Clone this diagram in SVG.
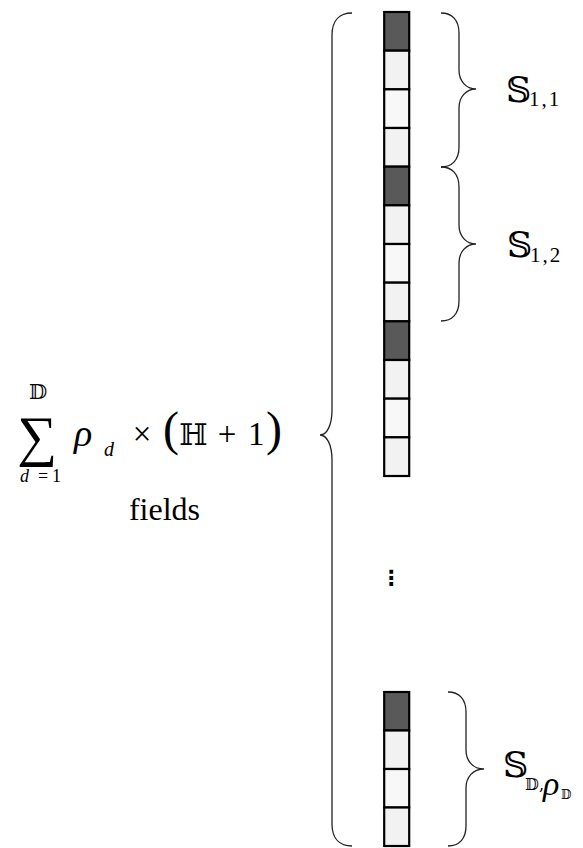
<svg xmlns="http://www.w3.org/2000/svg" width="583" height="848" viewBox="0 0 583 848">
<style>
.cell{stroke:#000;stroke-width:2.2}
.dk{fill:#595959}
.l1{fill:#f2f2f2}
.l2{fill:#f8f8f8}
.brace{fill:none;stroke:#222;stroke-width:1.3}
.t{font-family:"Liberation Serif","DejaVu Serif",serif;fill:#000}
.ds{font-family:"DejaVu Serif","DejaVu Sans",serif;fill:#000}
.dots{font-family:"DejaVu Sans",sans-serif;fill:#000;font-weight:bold}
.it{font-style:italic}
</style>
<rect width="583" height="848" fill="#fff"/>
<g id="column-top">
<rect class="cell dk" x="384.2" y="12" width="25" height="38.67"/>
<rect class="cell l1" x="384.2" y="50.67" width="25" height="38.67"/>
<rect class="cell l2" x="384.2" y="89.33" width="25" height="38.67"/>
<rect class="cell l1" x="384.2" y="128" width="25" height="38.67"/>
<rect class="cell dk" x="384.2" y="166.67" width="25" height="38.67"/>
<rect class="cell l1" x="384.2" y="205.33" width="25" height="38.67"/>
<rect class="cell l2" x="384.2" y="244" width="25" height="38.67"/>
<rect class="cell l1" x="384.2" y="282.67" width="25" height="38.67"/>
<rect class="cell dk" x="384.2" y="321.33" width="25" height="38.67"/>
<rect class="cell l1" x="384.2" y="360" width="25" height="38.67"/>
<rect class="cell l2" x="384.2" y="398.67" width="25" height="38.67"/>
<rect class="cell l1" x="384.2" y="437.33" width="25" height="38.67"/>
</g>
<g id="column-bottom">
<rect class="cell dk" x="384.2" y="692" width="25" height="38.5"/>
<rect class="cell l1" x="384.2" y="730.5" width="25" height="38.5"/>
<rect class="cell l2" x="384.2" y="769" width="25" height="38.5"/>
<rect class="cell l1" x="384.2" y="807.5" width="25" height="38.5"/>
</g>
<g id="ellipsis">
<text class="dots" x="391" y="585" font-size="21" text-anchor="middle">⋮</text>
</g>
<g id="braces">
<path class="brace" d="M352,13 C340,13 332,20 332,35 L332,410 C332,425 327,435 320,435 C327,435 332,445 332,460 L332,824 C332,839 340,846 352,846"/>
<path class="brace" d="M441,13 C452,13 459,20 459,33 L459,70 C459,81 466,89 476,89 C466,89 459,97 459,108 L459,147 C459,160 452,167 441,167"/>
<path class="brace" d="M441,167 C452,167 459,174 459,187 L459,225 C459,236 466,244 476,244 C466,244 459,252 459,263 L459,301 C459,314 452,321 441,321"/>
<path class="brace" d="M448,692 C459,692 466,699 466,712 L466,750 C466,761 473,769 484,769 C473,769 466,777 466,788 L466,826 C466,839 459,846 448,846"/>
</g>
<g id="label-s11">
<text class="ds" x="506" y="102" font-size="35">𝕊</text>
<text class="t" x="529" y="106" font-size="21" letter-spacing="2">1,1</text>
</g>
<g id="label-s12">
<text class="ds" x="507" y="257" font-size="35">𝕊</text>
<text class="t" x="530" y="262" font-size="21" letter-spacing="2">1,2</text>
</g>
<g id="label-sd">
<text class="ds" x="503" y="777" font-size="35">𝕊</text>
<text class="ds" x="525" y="790" font-size="16">𝔻,</text>
<text class="t it" x="543" y="795" font-size="34">ρ</text>
<text class="ds" x="561" y="799" font-size="12">𝔻</text>
</g>
<g id="formula">
<text class="t" x="37" y="455" font-size="56" text-anchor="middle">∑</text>
<text class="ds" x="38" y="399" font-size="21" text-anchor="middle">𝔻</text>
<text class="t it" x="20" y="482" font-size="18">d</text>
<text class="t" x="38" y="482" font-size="18">=</text>
<text class="t" x="52" y="482" font-size="18">1</text>
<text class="t it" x="74" y="446" font-size="38">ρ</text>
<text class="t it" x="104" y="456" font-size="20">d</text>
<text class="t" x="142" y="445" font-size="33" text-anchor="middle">×</text>
<text class="t" x="163" y="445" font-size="48">(</text>
<text class="ds" x="179" y="445" font-size="30">ℍ</text>
<text class="t" x="227" y="445" font-size="33" text-anchor="middle">+</text>
<text class="t" x="248" y="445" font-size="33">1</text>
<text class="t" x="266" y="445" font-size="48">)</text>
<text class="t" x="164.5" y="520" font-size="32" text-anchor="middle">fields</text>
</g>
</svg>
